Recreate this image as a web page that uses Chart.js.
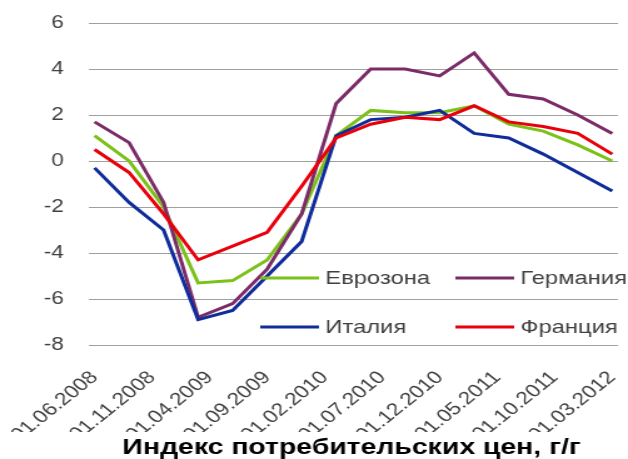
<!DOCTYPE html>
<html>
<head>
<meta charset="utf-8">
<script src="https://cdn.jsdelivr.net/npm/chart.js@4.4.1/dist/chart.umd.min.js"></script>
<style>
    html, body { margin: 0; padding: 0; background: #fff; }
    #cpiChart { display: block; }
</style>
</head>
<body>
<!-- the reference is stretched sideways, so the canvas is drawn narrower and widened by its style -->
<canvas id="cpiChart" width="502" height="459" style="width:628px;height:459px"></canvas>
<script>
// quarterly observations
const dates = ['01.06.2008', '01.09.2008', '01.12.2008', '01.03.2009', '01.06.2009', '01.09.2009',
               '01.12.2009', '01.03.2010', '01.06.2010', '01.09.2010', '01.12.2010', '01.03.2011',
               '01.06.2011', '01.09.2011', '01.12.2011', '01.03.2012'];

const eurozone = [1.1, 0.0, -2.0, -5.3, -5.2, -4.3, -2.3, 1.1, 2.2, 2.1, 2.1, 2.4, 1.6, 1.3, 0.7, 0.0];
const germany  = [1.7, 0.8, -1.8, -6.8, -6.2, -4.7, -2.3, 2.5, 4.0, 4.0, 3.7, 4.7, 2.9, 2.7, 2.0, 1.2];
const italy    = [-0.3, -1.8, -3.0, -6.9, -6.5, -5.0, -3.5, 1.1, 1.8, 1.9, 2.2, 1.2, 1.0, 0.3, -0.5, -1.3];
const france   = [0.5, -0.5, -2.3, -4.3, -3.7, -3.1, -1.1, 1.0, 1.6, 1.9, 1.8, 2.4, 1.7, 1.5, 1.2, 0.3];

const tickLabels = ['01.06.2008', '01.11.2008', '01.04.2009', '01.09.2009', '01.02.2010',
                    '01.07.2010', '01.12.2010', '01.05.2011', '01.10.2011', '01.03.2012'];
const seriesNames = ['Еврозона', 'Германия', 'Италия', 'Франция'];
const titleText = 'Индекс потребительских цен, г/г';

const colors = {
    eurozone: '#7cc11a',
    germany:  '#7b2c68',
    italy:    '#0f2c9a',
    france:   '#e8000b'
};

// month number counted from the first observation
function monthOf(d) {
    const [, m, y] = d.split('.').map(Number);
    return y * 12 + m;
}
const firstMonth = monthOf(dates[0]);
const toX = d => monthOf(d) - firstMonth;
const points = values => values.map((v, i) => ({ x: toX(dates[i]), y: v }));

const legendItems = [
    { label: seriesNames[0], color: colors.eurozone, col: 0, row: 0 },
    { label: seriesNames[1], color: colors.germany,  col: 1, row: 0 },
    { label: seriesNames[2], color: colors.italy,    col: 0, row: 1 },
    { label: seriesNames[3], color: colors.france,   col: 1, row: 1 }
];

// legend sits inside the plot, two rows, no box
const insideLegend = {
    id: 'insideLegend',
    afterDraw(chart) {
        const { ctx, chartArea } = chart;
        ctx.save();
        ctx.font = '19px "Liberation Sans", Arial, sans-serif';
        ctx.textBaseline = 'middle';
        ctx.fillStyle = '#404040';
        legendItems.forEach(item => {
            const x0 = chartArea.left + 137 + item.col * 156;
            const y0 = chartArea.top + 255 + item.row * 49;
            ctx.strokeStyle = item.color;
            ctx.lineWidth = 3;
            ctx.beginPath();
            ctx.moveTo(x0, y0);
            ctx.lineTo(x0 + 47, y0);
            ctx.stroke();
            ctx.fillText(item.label, x0 + 52, y0 + 1);
        });
        ctx.restore();
    }
};

// bottom title, it cuts off the lower ends of the date labels like the original
const bottomTitle = {
    id: 'bottomTitle',
    afterDraw(chart) {
        const { ctx, width, height } = chart;
        ctx.save();
        ctx.fillStyle = '#ffffff';
        ctx.fillRect(0, 432, width, height - 432);
        ctx.fillStyle = '#000000';
        ctx.font = 'bold 22.7px "Liberation Sans", Arial, sans-serif';
        ctx.textAlign = 'center';
        ctx.textBaseline = 'alphabetic';
        ctx.fillText(titleText, 281, 454);
        ctx.restore();
    }
};

const lineStyle = color => ({
    borderColor: color,
    backgroundColor: color,
    borderWidth: 3,
    pointRadius: 0,
    tension: 0,
    fill: false
});

new Chart(document.getElementById('cpiChart'), {
    type: 'line',
    data: {
        datasets: [
            { label: seriesNames[0], data: points(eurozone), order: 3, ...lineStyle(colors.eurozone) },
            { label: seriesNames[1], data: points(germany),  order: 2, ...lineStyle(colors.germany) },
            { label: seriesNames[2], data: points(italy),    order: 1, ...lineStyle(colors.italy) },
            { label: seriesNames[3], data: points(france),   order: 0, ...lineStyle(colors.france) }
        ]
    },
    options: {
        responsive: false,
        devicePixelRatio: 1,
        animation: false,
        layout: { padding: { top: 23, right: 8, bottom: 0, left: 0 } },
        plugins: {
            legend: { display: false },
            title: { display: false },
            tooltip: { enabled: false }
        },
        scales: {
            x: {
                type: 'linear',
                min: -0.5,
                max: toX(dates[dates.length - 1]) + 0.5,
                afterBuildTicks: (scale) => {
                    scale.ticks = tickLabels.map(d => ({ value: toX(d) }));
                },
                afterFit: (scale) => {
                    scale.height = 114;
                    scale.paddingLeft = 0;
                    scale.paddingRight = 0;
                },
                grid: { display: false },
                border: { display: false },
                ticks: {
                    autoSkip: false,
                    minRotation: 45,
                    maxRotation: 45,
                    padding: 14,
                    color: '#404040',
                    font: { family: '"Liberation Sans", Arial, sans-serif', size: 18 },
                    callback: (value, index) => tickLabels[index]
                }
            },
            y: {
                min: -8,
                max: 6,
                afterFit: (scale) => {
                    scale.width = 71;
                    scale.paddingTop = 0;
                    scale.paddingBottom = 0;
                },
                grid: { color: '#a0a0a0', lineWidth: 1, drawTicks: false },
                border: { display: false },
                ticks: {
                    stepSize: 2,
                    padding: 20,
                    color: '#404040',
                    font: { family: '"Liberation Sans", Arial, sans-serif', size: 18 }
                }
            }
        }
    },
    plugins: [insideLegend, bottomTitle]
});
</script>
</body>
</html>
